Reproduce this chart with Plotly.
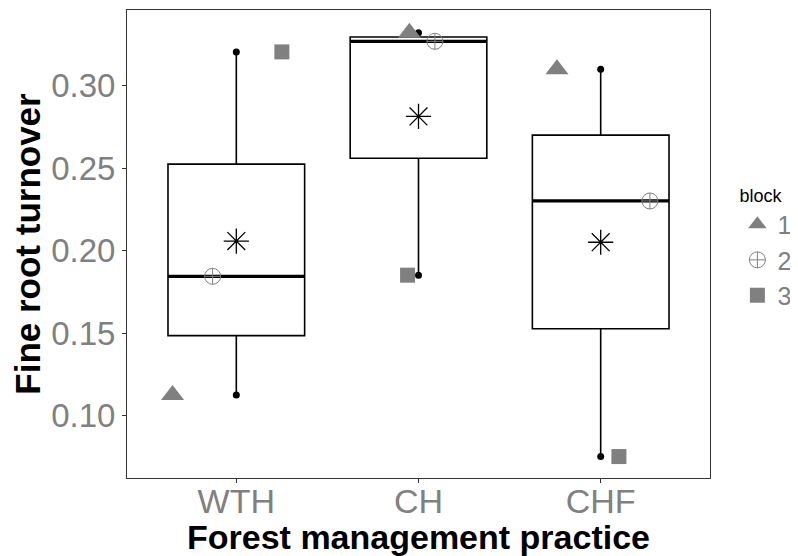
import numpy as np
import plotly.graph_objects as go

# Datos
practices = ["WTH", "CH", "CHF"]
blocks = ["1", "2", "3"]
# turnover[practica][bloque]
turnover_WTH = [0.1125, 0.1844, 0.3205]
turnover_CH = [0.3321, 0.3269, 0.1851]
turnover_CHF = [0.3100, 0.2301, 0.0751]
# desplazamiento horizontal (jitter) de cada punto
jitter_WTH = [-0.35, -0.13, 0.25]
jitter_CH = [-0.05, 0.09, -0.06]
jitter_CHF = [-0.24, 0.27, 0.10]

turnover = [turnover_WTH, turnover_CH, turnover_CHF]
jitter = [jitter_WTH, jitter_CH, jitter_CHF]
pos = [1, 2, 3]

gray = "#808080"
font_family = "Liberation Sans, Arial, sans-serif"
box_w = 0.75

fig = go.Figure()

# Cajas
for i, vals in enumerate(turnover):
    fig.add_trace(
        go.Box(
            x=[pos[i]] * len(vals),
            y=vals,
            width=box_w,
            quartilemethod="inclusive",
            boxpoints=False,
            fillcolor="white",
            line=dict(color="black", width=1.6),
            whiskerwidth=0,
            showlegend=False,
            hoverinfo="skip",
        )
    )
    # Mediana mas gruesa
    med = np.median(vals)
    fig.add_trace(
        go.Scatter(
            x=[pos[i] - box_w / 2, pos[i] + box_w / 2],
            y=[med, med],
            mode="lines",
            line=dict(color="black", width=3.2),
            showlegend=False,
            hoverinfo="skip",
        )
    )
    # Puntos en los extremos de los bigotes
    fig.add_trace(
        go.Scatter(
            x=[pos[i], pos[i]],
            y=[min(vals), max(vals)],
            mode="markers",
            marker=dict(color="black", size=7),
            showlegend=False,
            hoverinfo="skip",
        )
    )
    # Media
    fig.add_trace(
        go.Scatter(
            x=[pos[i]],
            y=[np.mean(vals)],
            mode="markers",
            marker=dict(
                symbol="asterisk-open",
                size=21,
                color="black",
                line=dict(color="black", width=1.3),
            ),
            showlegend=False,
            hoverinfo="skip",
        )
    )

# Puntos por bloque
symbols = ["triangle-up", "circle-cross-open", "square"]
sizes = [20, 16, 15]
for b in range(len(blocks)):
    xs = [pos[i] + jitter[i][b] for i in range(len(practices))]
    ys = [turnover[i][b] for i in range(len(practices))]
    marker = dict(symbol=symbols[b], size=sizes[b], color=gray)
    if symbols[b].endswith("open"):
        marker["line"] = dict(color=gray, width=1)
    else:
        marker["line"] = dict(width=0)
    fig.add_trace(
        go.Scatter(x=xs, y=ys, mode="markers", name=blocks[b], marker=marker)
    )

# La pagina tiene ~8 px de margen en el body, por eso 790x548
fig.update_layout(
    width=790,
    height=548,
    margin=dict(l=118.5, r=88, t=2, b=78, autoexpand=False),
    paper_bgcolor="white",
    plot_bgcolor="white",
    font=dict(family=font_family),
    legend=dict(
        title=dict(text="block", font=dict(size=18, color="black")),
        font=dict(size=25, color=gray),
        x=1.047,
        xanchor="left",
        y=0.491,
        yanchor="middle",
        tracegroupgap=0,
        itemwidth=30,
    ),
    xaxis=dict(
        range=[0.4, 3.6],
        tickvals=pos,
        ticktext=practices,
        ticks="outside",
        ticklen=4,
        tickcolor="#333333",
        tickfont=dict(size=34, color=gray),
        ticklabelstandoff=-11,
        showline=True,
        mirror=True,
        linecolor="#333333",
        linewidth=1,
        showgrid=False,
        zeroline=False,
        automargin=False,
        title=dict(
            text="<b>Forest management practice</b>",
            font=dict(size=34, color="black"),
            standoff=0,
        ),
    ),
    yaxis=dict(
        range=[0.0621, 0.3459],
        tickvals=[0.10, 0.15, 0.20, 0.25, 0.30],
        ticktext=["0.10", "0.15", "0.20", "0.25", "0.30"],
        ticks="outside",
        ticklen=4,
        tickcolor="#333333",
        tickfont=dict(size=33, color=gray),
        showline=True,
        mirror=True,
        linecolor="#333333",
        linewidth=1,
        showgrid=False,
        zeroline=False,
        automargin=False,
        title=dict(
            text="<b>Fine root turnover</b>",
            font=dict(size=35, color="black"),
            standoff=4,
        ),
    ),
)

fig.write_html("out.html")
